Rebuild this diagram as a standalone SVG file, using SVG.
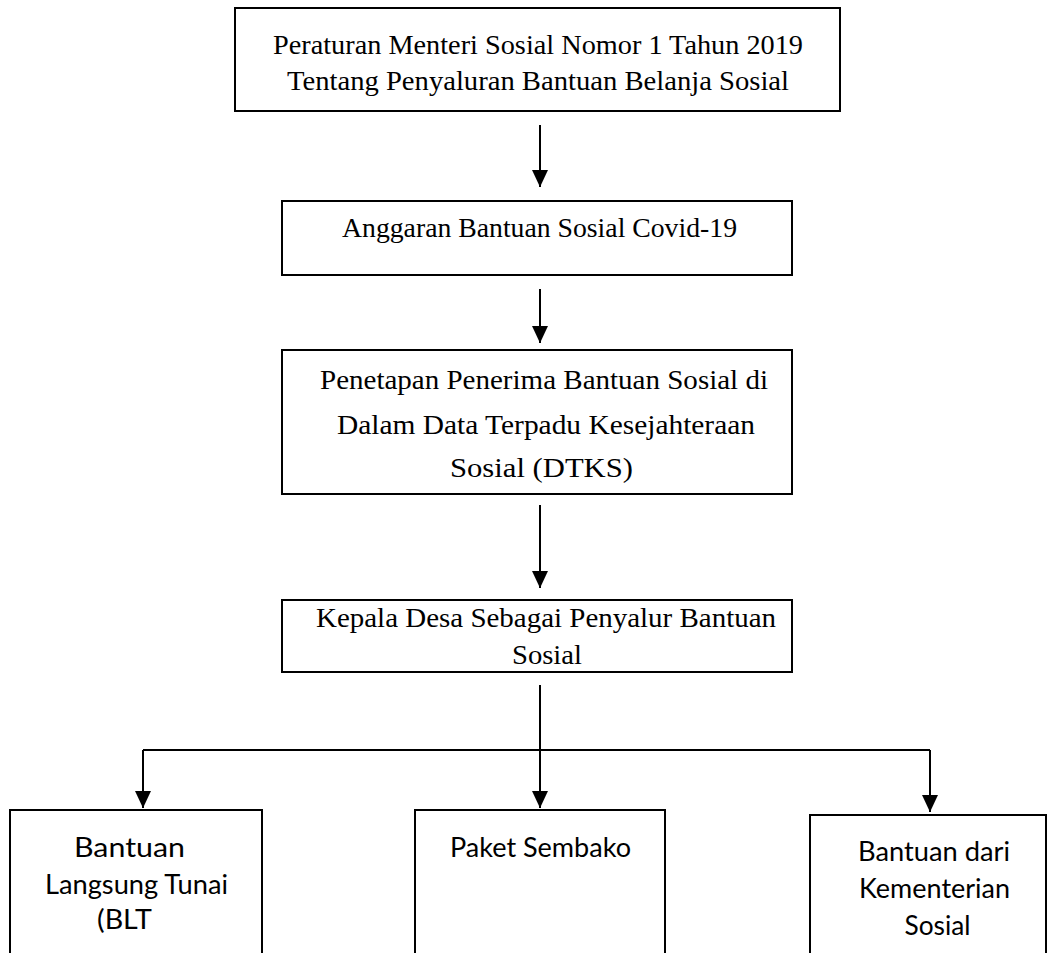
<svg xmlns="http://www.w3.org/2000/svg" width="1051" height="953" viewBox="0 0 1051 953">
<style>
.box{fill:#fff;stroke:#000;stroke-width:2}
.t{font-family:"Liberation Serif","Times New Roman",serif;font-size:28px;fill:#000;text-anchor:middle}
.c{font-family:Lato,"Open Sans",sans-serif;font-size:27px;fill:#000;text-anchor:middle}
.ln{stroke:#000;stroke-width:2;fill:none}
</style>
<defs>
<marker id="ah" markerUnits="userSpaceOnUse" markerWidth="17" markerHeight="16" refX="17" refY="8" orient="auto">
<path d="M0,0 L17,8 L0,16 z" fill="#000"/>
</marker>
</defs>
<rect width="1051" height="953" fill="#fff"/>
<g id="connectors">
<path class="ln" d="M540,125 V187" marker-end="url(#ah)"/>
<path class="ln" d="M540,289 V343" marker-end="url(#ah)"/>
<path class="ln" d="M540,505 V588" marker-end="url(#ah)"/>
<path class="ln" d="M540,685 V808" marker-end="url(#ah)"/>
<path class="ln" d="M143,750 H930"/>
<path class="ln" d="M143,750 V808" marker-end="url(#ah)"/>
<path class="ln" d="M930,750 V812" marker-end="url(#ah)"/>
</g>
<g id="n1">
<rect class="box" x="235" y="8" width="605" height="103"/>
<text class="t" x="538" y="54" textLength="530" lengthAdjust="spacingAndGlyphs">Peraturan Menteri Sosial Nomor 1 Tahun 2019</text>
<text class="t" x="538" y="90" textLength="502" lengthAdjust="spacingAndGlyphs">Tentang Penyaluran Bantuan Belanja Sosial</text>
</g>
<g id="n2">
<rect class="box" x="282" y="201" width="510" height="74"/>
<text class="t" x="539.5" y="237" textLength="395" lengthAdjust="spacingAndGlyphs">Anggaran Bantuan Sosial Covid-19</text>
</g>
<g id="n3">
<rect class="box" x="282" y="350" width="510" height="144"/>
<text class="t" x="544" y="389" textLength="448" lengthAdjust="spacingAndGlyphs">Penetapan Penerima Bantuan Sosial di</text>
<text class="t" x="546" y="434" textLength="418" lengthAdjust="spacingAndGlyphs">Dalam Data Terpadu Kesejahteraan</text>
<text class="t" x="541.5" y="477" textLength="183" lengthAdjust="spacingAndGlyphs">Sosial (DTKS)</text>
</g>
<g id="n4">
<rect class="box" x="282" y="600" width="510" height="72"/>
<text class="t" x="546" y="627" textLength="460" lengthAdjust="spacingAndGlyphs">Kepala Desa Sebagai Penyalur Bantuan</text>
<text class="t" x="547" y="664" textLength="70" lengthAdjust="spacingAndGlyphs">Sosial</text>
</g>
<g id="n5">
<rect class="box" x="10" y="810" width="252" height="160"/>
<text class="c" x="129.5" y="857" textLength="111" lengthAdjust="spacingAndGlyphs">Bantuan</text>
<text class="c" x="136.5" y="894" textLength="183" lengthAdjust="spacingAndGlyphs">Langsung Tunai</text>
<text class="c" x="124.5" y="929" textLength="55" lengthAdjust="spacingAndGlyphs">(BLT</text>
</g>
<g id="n6">
<rect class="box" x="415" y="810" width="250" height="160"/>
<text class="c" x="540.5" y="857" textLength="181" lengthAdjust="spacingAndGlyphs">Paket Sembako</text>
</g>
<g id="n7">
<rect class="box" x="810" y="815" width="236" height="160"/>
<text class="c" x="934" y="861" textLength="152" lengthAdjust="spacingAndGlyphs">Bantuan dari</text>
<text class="c" x="934.5" y="898" textLength="151" lengthAdjust="spacingAndGlyphs">Kementerian</text>
<text class="c" x="937.5" y="935" textLength="66" lengthAdjust="spacingAndGlyphs">Sosial</text>
</g>
</svg>
